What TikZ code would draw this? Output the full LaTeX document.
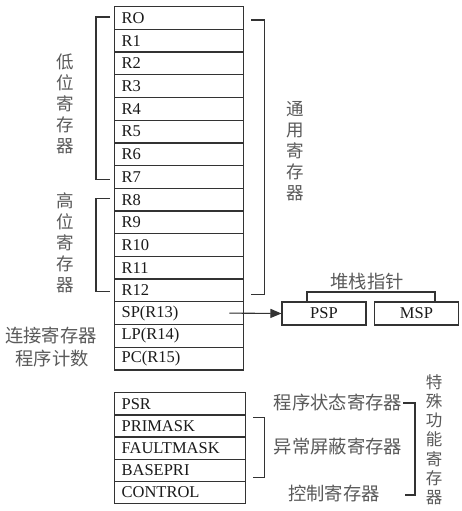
\documentclass[tikz,border=0pt]{standalone}
\usepackage{fontspec}
\setmainfont{Liberation Serif}
\newfontfamily\cjk{Noto Sans CJK SC}
\usetikzlibrary{arrows.meta,calc}
\definecolor{ln}{HTML}{333333}
\definecolor{cn}{HTML}{5A5A5A}
\definecolor{lt}{HTML}{1A1A1A}
\tikzset{
  row/.style={draw=ln, line width=1.3pt, anchor=north west, minimum width=129pt, minimum height=22.7pt,
    text width=115pt, inner xsep=7pt, inner ysep=0pt, align=left, text=lt,
    font=\fontsize{16.5}{16.5}\selectfont},
  srow/.style={row, minimum width=131pt, minimum height=22.2pt, text width=117pt},
  sbox/.style={draw=ln, line width=1.1pt, minimum width=84pt, minimum height=23pt, inner sep=0pt, text=lt,
    font=\fontsize{16.5}{16.5}\selectfont},
  br/.style={draw=ln, line width=1.1pt},
  vlab/.style={text=cn, align=center, inner sep=0pt, font=\cjk\fontsize{17.5}{21}\selectfont},
  hlab/.style={text=cn, inner sep=0pt, font=\cjk\fontsize{18.3}{18.3}\selectfont},
}
\begin{document}
\begin{tikzpicture}[x=1pt,y=-1pt]
\useasboundingbox[fill=white] (0,0) rectangle (462,511);
% main register stack
\node[row] (r0) at (114,6) {RO};
\node[row] (r1) at (114,28.7) {R1};
\node[row] (r2) at (114,51.4) {R2};
\node[row] (r3) at (114,74.1) {R3};
\node[row] (r4) at (114,96.8) {R4};
\node[row] (r5) at (114,119.5) {R5};
\node[row] (r6) at (114,142.2) {R6};
\node[row] (r7) at (114,164.9) {R7};
\node[row] (r8) at (114,187.6) {R8};
\node[row] (r9) at (114,210.3) {R9};
\node[row] (r10) at (114,233.0) {R10};
\node[row] (r11) at (114,255.7) {R11};
\node[row] (r12) at (114,278.4) {R12};
\node[row] (r13) at (114,301.1) {SP(R13)};
\node[row] (r14) at (114,323.8) {LP(R14)};
\node[row] (r15) at (114,346.5) {PC(R15)};
% special registers
\node[srow] (s0) at (114,392) {PSR};
\node[srow] (s1) at (114,414.2) {PRIMASK};
\node[srow] (s2) at (114,436.4) {FAULTMASK};
\node[srow] (s3) at (114,458.6) {BASEPRI};
\node[srow] (s4) at (114,480.8) {CONTROL};
% left brackets
\draw[br] ([xshift=-4pt,yshift=1pt]r0.west) -- ++(-14,0) |- ([xshift=-4pt,yshift=-3pt]r7.west);
\draw[br] ([xshift=-4pt,yshift=1pt]r8.west) -- ++(-14,0) |- ([xshift=-4pt,yshift=-1pt]r12.west);
\node[vlab] (low) at (65,104) {低\\位\\寄\\存\\器};
\node[vlab] (high) at (65,243) {高\\位\\寄\\存\\器};
\node[hlab] (lr) at (51,336) {连接寄存器};
\node[hlab] (pc) at (52,359) {程序计数};
% right bracket general
\draw[br] ([xshift=7pt,yshift=-2pt]r0.east) -- ++(13,0) |- ([xshift=7pt,yshift=-4pt]r12.east);
\node[vlab] (gen) at (295,151) {通\\用\\寄\\存\\器};
% stack pointer
\node[sbox] (psp) at (324,313.5) {PSP};
\node[sbox] (msp) at (416.5,313.5) {MSP};
\draw[-{Triangle[length=11pt,width=9pt]}, draw=ln, fill=ln, line width=1.1pt] ([xshift=-15pt]r13.east) -- (psp.west);
\coordinate (spl) at (307,292);
\coordinate (spr) at (435,292);
\draw[br] (spl |- psp.north) -- (spl) -- (spr) -- (spr |- msp.north);
\node[hlab] (spn) at (367,282) {堆栈指针};
% special function labels
\node[hlab] (psrl) at (338,403) {程序状态寄存器};
\node[hlab] (mskl) at (338,447) {异常屏蔽寄存器};
\node[hlab] (ctll) at (334,493) {控制寄存器};
\coordinate (sfb) at (405,495);
\draw[br] ([xshift=7pt]s1.north east) ++(0,3) -- ++(11,0) -- ++(0,60) -- ++(-11,0);
\draw[br] ([xshift=1pt]psrl.east) -- (415,403) -- (415,495) -- (sfb);
\node[vlab, anchor=north, font=\cjk\fontsize{16.5}{19.3}\selectfont] (sfr) at (434,374) {特\\殊\\功\\能\\寄\\存\\器};
\end{tikzpicture}
\end{document}
